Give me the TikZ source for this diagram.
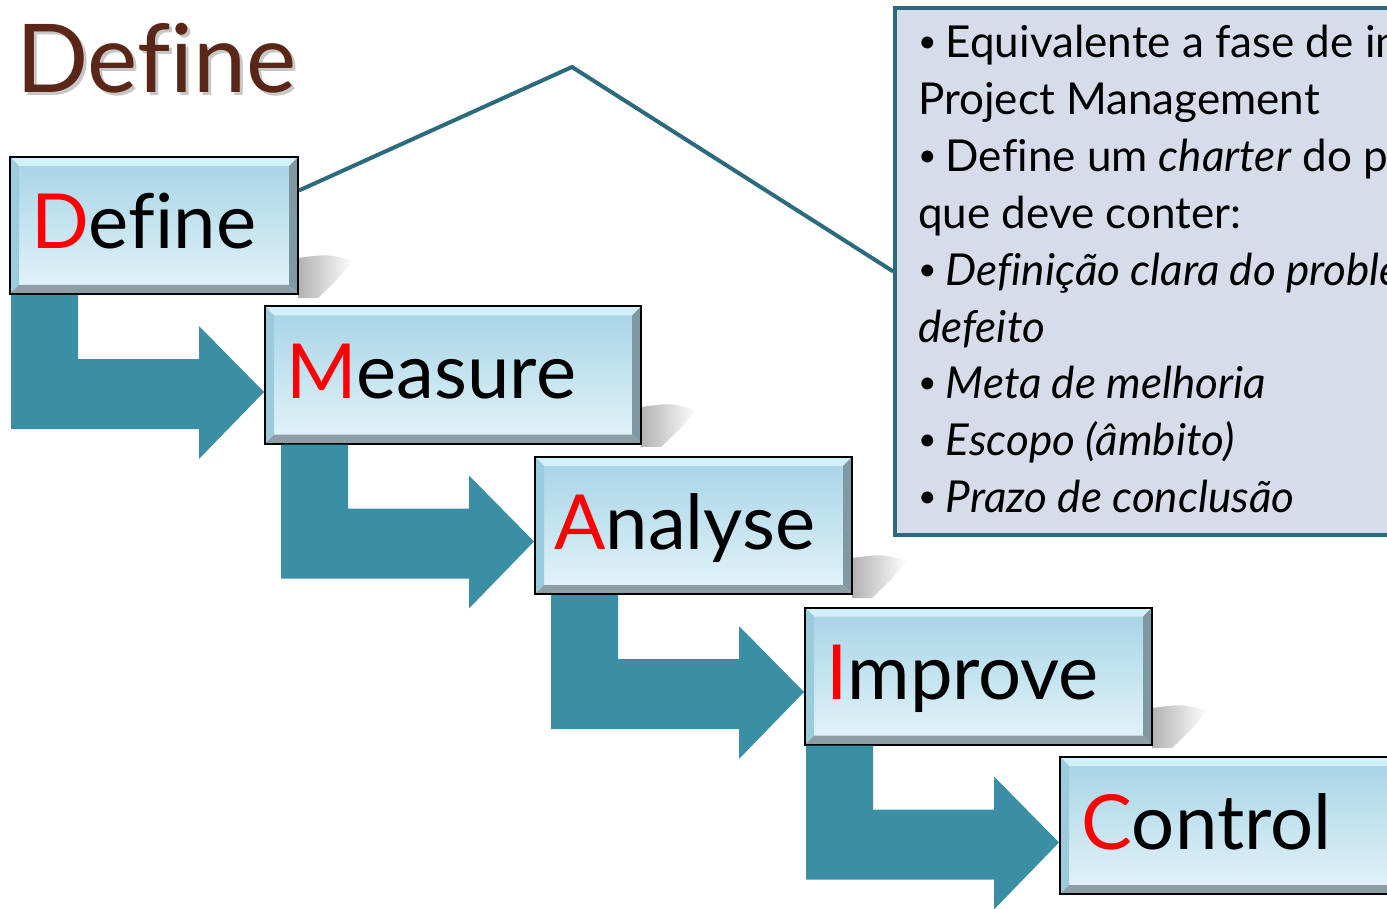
\documentclass[tikz,border=0pt]{standalone}
\usepackage{fontspec}
\setmainfont[Ligatures=NoCommon]{Lato}
\usetikzlibrary{calc,fadings}
\definecolor{titlebrown}{HTML}{5A2617}
\definecolor{arrowteal}{HTML}{3A8FA5}
\definecolor{lineteal}{HTML}{2B6B7D}
\definecolor{notefill}{HTML}{D6DCEA}
\definecolor{boxtop}{HTML}{A6D3E6}
\definecolor{boxbot}{HTML}{E4F4FA}
\definecolor{bevtop}{HTML}{D2F0FA}
\definecolor{bevleft}{HTML}{9CCBDD}
\definecolor{bevright}{HTML}{7E99A3}
\definecolor{bevbot}{HTML}{8E9EA5}
\tikzset{
  stepbox/.style={draw=black, line width=2pt, inner sep=0pt, top color=boxtop, bottom color=boxbot,
    minimum height=137pt,
    path picture={
      \path (path picture bounding box.north west) coordinate (bnw)
            (path picture bounding box.south east) coordinate (bse);
      \fill[bevtop] (bnw) -- (bnw -| bse) -- ++(-9,9) -- ($(bnw)+(9,9)$) -- cycle;
      \fill[bevleft] (bnw) -- ($(bnw)+(9,9)$) -- ($(bnw |- bse)+(9,-9)$) -- (bnw |- bse) -- cycle;
      \fill[bevright] (bnw -| bse) -- (bse) -- ++(-9,-9) -- ($(bnw -| bse)+(-9,9)$) -- cycle;
      \fill[bevbot] (bnw |- bse) -- (bse) -- ++(-9,-9) -- ($(bnw |- bse)+(9,-9)$) -- cycle;
    }},
  boxtext/.style={inner sep=0pt, anchor=base west, font=\fontsize{76}{80}\selectfont},
  notetext/.style={inner sep=0pt, anchor=base west, font=\fontsize{44}{50}\selectfont},
  bentarrow/.style={fill=arrowteal},
  softshadow/.style={fill=black!55, opacity=0.55, path fading=east},
  calloutline/.style={draw=lineteal, line width=4pt},
}
\newcommand{\ini}[1]{\textcolor{red}{#1}}
\newcommand{\bul}{\raisebox{5pt}{\fontsize{32}{32}\selectfont•}\hspace{9pt}}
\begin{document}
\begin{tikzpicture}[x=1pt,y=-1pt]
\useasboundingbox (0,0) rectangle (1387,909);
\clip (0,0) rectangle (1387,909);
\fill[white] (0,0) rectangle (1387,909);

% title
\node[inner sep=0pt, anchor=base west, text=black, opacity=0.22, font=\fontsize{95}{100}\selectfont] (titleshadow) at (19,96) {Define};
\node[inner sep=0pt, anchor=base west, text=titlebrown, font=\fontsize{95}{100}\selectfont] (title) at (16,93) {Define};

% note box
\node[draw=lineteal, line width=3.5pt, fill=notefill, minimum width=505pt, minimum height=527pt, inner sep=0pt] (note) at (1147.5,271.5) {};
\node[notetext] (n1) at (918,58) {\bul Equivalente a fase de in};
\node[notetext] (n2) at (918,114.8) {Project Management};
\node[notetext] (n3) at (918,171.6) {\bul Define um \textit{charter} do p};
\node[notetext] (n4) at (918,228.4) {que deve conter:};
\node[notetext] (n5) at (918,285.2) {\bul\textit{Definição clara do proble}};
\node[notetext] (n6) at (918,342) {\textit{defeito}};
\node[notetext] (n7) at (918,398.8) {\bul\textit{Meta de melhoria}};
\node[notetext] (n8) at (918,455.6) {\bul\textit{Escopo (âmbito)}};
\node[notetext] (n9) at (918,512.4) {\bul\textit{Prazo de conclusão}};

% soft shadows
\foreach \r/\b in {298/294, 641/443, 852/594, 1152/744}{
  \fill[softshadow] (\r,\b-36) .. controls (\r+30,\b-40) .. (\r+55,\b-33)
    .. controls (\r+40,\b-15) .. (\r+20,\b+4) -- (\r,\b+4) -- cycle;
}

% boxes
\node[stepbox, minimum width=288pt] (D) at (154,225.5) {};
\node[stepbox, minimum width=376pt] (M) at (453,375) {};
\node[stepbox, minimum width=317pt] (A) at (693.5,525.5) {};
\node[stepbox, minimum width=347pt] (I) at (978.5,676) {};
\node[stepbox, minimum width=340pt] (C) at (1230,825.5) {};

\node[boxtext] (tD) at ($(D.north west)+(22,93)$) {\ini{D}efine};
\node[boxtext] (tM) at ($(M.north west)+(22,93)$) {\ini{M}easure};
\node[boxtext] (tA) at ($(A.north west)+(20,93)$) {\ini{A}nalyse};
\node[boxtext] (tI) at ($(I.north west)+(22,93)$) {\ini{I}mprove};
\node[boxtext] (tC) at ($(C.north west)+(22,93)$) {\ini{C}ontrol};

% bent arrows: from bottom of one box to the west side of the next
\foreach \s/\t in {D/M,M/A,A/I,I/C}{
  \coordinate (tx) at ($(\t.west)+(-253,0)$);
  \fill[bentarrow] (tx |- \s.south) -- ++(67,0) -- ++(0,64) -- ++(121,0) -- ++(0,-33)
    -- ++(65,66) -- ++(-65,67) -- ++(0,-30) -- ++(-188,0) -- cycle;
}

% callout line
\coordinate (peak) at (572,67);
\draw[calloutline] ($(D.east)+(0,-35)$) -- (peak) -- (note.west);
\end{tikzpicture}
\end{document}
